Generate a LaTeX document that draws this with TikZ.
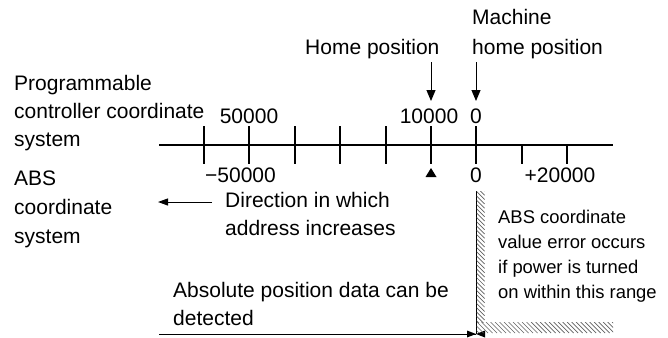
\documentclass[tikz,border=0pt]{standalone}
\usepackage{fontspec}
\setmainfont{Liberation Sans}
\usetikzlibrary{arrows.meta}
\tikzset{
  txt/.style={anchor=base west, inner sep=0pt, font=\fontsize{21}{24}\selectfont},
  ctxt/.style={anchor=base, inner sep=0pt, font=\fontsize{21}{24}\selectfont},
  stxt/.style={anchor=base west, inner sep=0pt, font=\fontsize{18.4}{22}\selectfont},
  axisline/.style={line width=1.8pt},
  tickmark/.style={line width=1.8pt},
  downarrow/.style={line width=1pt, -{Triangle[length=11pt,width=9pt]}},
  thinline/.style={line width=1pt},
  hatchline/.style={line width=0.7pt, gray!75!black},
}
\begin{document}
\begin{tikzpicture}[x=1pt,y=-1pt]
\useasboundingbox (0,0) rectangle (668,337);
% left texts
\node[txt] (pc1) at (14,90) {Programmable};
\node[txt] (pc2) at (14,118) {controller coordinate};
\node[txt] (pc3) at (14,146) {system};
\node[txt] (abs1) at (14,185) {ABS};
\node[txt] (abs2) at (14,214) {coordinate};
\node[txt] (abs3) at (14,243) {system};
% axis
\coordinate (axL) at (159,145);
\coordinate (axR) at (613,145);
\draw[axisline] (axL) -- (axR);
\foreach \x in {204,249,295,340,386,431,476} {
  \draw[tickmark] (\x,126) -- (\x,164);
}
\foreach \x in {522,567} {
  \draw[tickmark] (\x,145) -- (\x,164);
}
% top labels
\node[ctxt] (n50) at (249,123) {50000};
\node[ctxt] (n10) at (429,123) {10000};
\node[ctxt] (n0t) at (476,123) {0};
% bottom labels
\node[txt] (m50) at (205,182) {−50000};
\node[ctxt] (n0b) at (476,182) {0};
\node[ctxt] (p20) at (560,182) {+20000};
% triangle marker
\fill (425.5,177) -- (436.5,177) -- (431,168) -- cycle;
% home position labels and arrows
\node[txt] (home) at (305,54) {Home position};
\node[txt] (mach1) at (472,25) {Machine};
\node[txt] (mach2) at (472,54) {home position};
\coordinate (hA) at (431,62);
\coordinate (hB) at (431,101);
\coordinate (mA) at (476,62);
\coordinate (mB) at (476,101);
\draw[downarrow] (hA) -- (hB);
\draw[downarrow] (mA) -- (mB);
% direction arrow
\node[txt] (dir1) at (225,207) {Direction in which};
\node[txt] (dir2) at (225,235) {address increases};
\coordinate (dA) at (212,202);
\coordinate (dB) at (158,202);
\draw[thinline, -{Triangle[length=10pt,width=7pt]}] (dA) -- (dB);
% absolute position
\node[txt] (ap1) at (173,297) {Absolute position data can be};
\node[txt] (ap2) at (173,325) {detected};
\coordinate (bL) at (159,334);
\coordinate (bM) at (476,334);
\draw[thinline] (bL) -- (bM);
\fill (476,334) -- (467,330.5) -- (467,337.5) -- cycle;
\fill (476,334) -- (485,330.5) -- (485,337.5) -- cycle;
% vertical boundary
\coordinate (vT) at (476,191);
\draw[thinline] (vT) -- (bM);
% hatching
\begin{scope}
\clip (476.6,191) rectangle (485,322);
\foreach \y in {183,187.3,...,330} {
  \draw[hatchline] (476.6,\y) -- (484.6,\y+8);
}
\end{scope}
\begin{scope}
\clip (476.6,322) rectangle (613,333);
\foreach \x in {468,472.5,...,612} {
  \draw[hatchline] (\x,322) -- (\x+11,333);
}
\end{scope}
% right text
\node[stxt] (err1) at (498,223) {ABS coordinate};
\node[stxt] (err2) at (498,248) {value error occurs};
\node[stxt] (err3) at (498,273) {if power is turned};
\node[stxt] (err4) at (498,298) {on within this range};
\end{tikzpicture}
\end{document}
